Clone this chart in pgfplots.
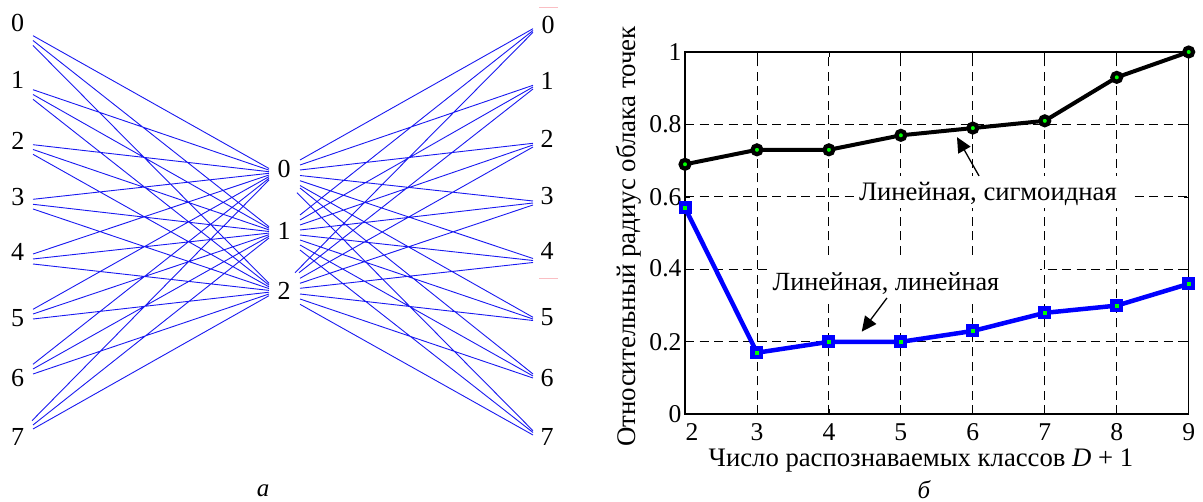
\documentclass[border=0pt]{standalone}
\usepackage{fontspec}
\setmainfont{Liberation Serif}
\usepackage{pgfplots}
\pgfplotsset{compat=1.18}
\usetikzlibrary{arrows.meta}
\definecolor{netblue}{RGB}{25,25,240}
\definecolor{pureblue}{RGB}{0,0,255}
\definecolor{puregreen}{RGB}{0,255,0}
\definecolor{pink1}{RGB}{250,190,195}
\newcommand{\fs}[1]{\fontsize{#1}{#1}\selectfont}
\begin{document}
\begin{tikzpicture}
\useasboundingbox (0,0) rectangle (1203pt,502pt);
% network panel, coordinates are image pixels
\begin{axis}[
  at={(0pt,0pt)},anchor=south west,scale only axis,width=1203pt,height=502pt,
  xmin=0,xmax=1203,ymin=0,ymax=502,y dir=reverse,axis lines=none,clip=false,
  unbounded coords=jump]
\addplot[netblue,line width=0.9pt,forget plot] coordinates {
(33,35.7)(269,168.5)(0,nan)(33,40.5)(269,226.7)(0,nan)(33,45.5)(269,283.3)(0,nan)
(33,89.7)(269,170.1)(0,nan)(33,94.5)(269,228.3)(0,nan)(33,99.3)(269,285.1)(0,nan)
(33,144.7)(269,171.7)(0,nan)(33,149.5)(269,229.9)(0,nan)(33,154.3)(269,286.9)(0,nan)
(33,199.3)(269,173.3)(0,nan)(33,204.3)(269,231.5)(0,nan)(33,209)(269,288.6)(0,nan)
(33,254)(269,175)(0,nan)(33,259)(269,233.1)(0,nan)(33,264)(269,290.4)(0,nan)
(33,309.3)(269,176.6)(0,nan)(33,314)(269,234.7)(0,nan)(33,319)(269,292.2)(0,nan)
(33,364.3)(269,178.3)(0,nan)(33,369)(269,236.3)(0,nan)(33,374)(269,294)(0,nan)
(32,420.7)(269,180)(0,nan)(33,425)(269,238)(0,nan)(33,429)(269,295.7)
};
\addplot[netblue,line width=0.9pt,forget plot] coordinates {
(300,160)(533,28.7)(0,nan)(300,215)(533,30.5)(0,nan)(295,272.7)(533,32.3)(0,nan)
(300,165)(533,85.3)(0,nan)(300,220)(533,87)(0,nan)(299,272.7)(533,89)(0,nan)
(300,170)(533,143.3)(0,nan)(300,225)(533,145)(0,nan)(300,278.3)(533,147)(0,nan)
(300,175.5)(533,201)(0,nan)(300,230)(533,203)(0,nan)(300,283.3)(533,205)(0,nan)
(300,180.7)(533,258.5)(0,nan)(300,235)(533,260.5)(0,nan)(300,288.3)(533,262.5)(0,nan)
(300,185.5)(533,317.3)(0,nan)(300,240)(533,319)(0,nan)(300,294)(533,320.5)(0,nan)
(300,188)(533,374)(0,nan)(300,245)(533,376)(0,nan)(300,299)(533,378)(0,nan)
(297,192.7)(533,430.7)(0,nan)(300,250)(533,432.5)(0,nan)(300,304.3)(533,435)
};
\addplot[pink1,line width=0.8pt,forget plot] coordinates {(539,7)(557.5,7)(0,nan)(539,278.3)(557.5,278.3)};
\foreach \t/\xx/\yy in {0/17.5/23.3,1/17.5/80,2/18/140.7,3/18/196.7,4/17.5/252,5/17.5/317.7,6/17.5/377.7,7/17.5/436.7,
  0/284/169.3,1/284/231,2/284/290.7,
  0/548/24.7,1/547/81.3,2/547/139.3,3/547/195.7,4/547/250.7,5/547/316.7,6/547/378,7/547/437.3}{
  \edef\tmp{\noexpand\node[inner sep=0pt,font=\noexpand\fs{26}] at (axis cs:\xx,\yy) {\t};}\tmp
}
\node[inner sep=0pt,font=\fs{25}\itshape] at (axis cs:263,491) {а};
\node[inner sep=0pt,font=\fs{25}\itshape] at (axis cs:924,489.5) {б};
\end{axis}
% line chart panel
\begin{axis}[
  at={(685pt,87.7pt)},anchor=south west,scale only axis,width=503.7pt,height=362.3pt,
  xmin=2,xmax=9,ymin=0,ymax=1,clip=false,
  axis line style={line width=1.2pt,black},
  xtick={2,3,4,5,6,7,8,9},
  xticklabels={\hspace{14pt}2,3,4,5,6,7,8,9\hspace{6pt}},
  ytick={0,0.2,0.4,0.6,0.8,1},
  yticklabels={0,\raisebox{-1.5pt}{0.2},\raisebox{2pt}{0.4},\raisebox{-3pt}{0.6},\raisebox{1.5pt}{0.8},1},
  tick align=inside,tick pos=both,major tick length=5pt,
  tick style={black,line width=0.8pt},
  xticklabel style={font=\fs{25.6},anchor=base,yshift=-26.4pt},
  yticklabel style={font=\fs{25.6}},
  xmajorgrids,ymajorgrids,
  grid style={black,line width=0.9pt,dash pattern=on 9pt off 5.5pt},
  xlabel={Число распознаваемых классов \textit{D} + 1},
  ylabel={Относительный радиус облака точек},
  xlabel style={font=\fs{26.7},at={(axis description cs:0.4685,-0.1446)},anchor=base},
  ylabel style={font=\fs{26.9},at={(axis description cs:-0.0973,0.491)},anchor=base},
]
\fill[white] (axis cs:4.39,0.569) rectangle (axis cs:8.18,0.658);
\fill[white] (axis cs:3.18,0.3155) rectangle (axis cs:6.93,0.426);
\draw[line width=2pt,black] (axis cs:2,1) -- (axis cs:2,0) -- (axis cs:9,0);
\addplot[black,line width=4pt,mark=*,mark size=4.4pt,
  mark options={fill=puregreen,draw=black,line width=4.2pt,solid}] coordinates {
(2,0.69)(3,0.73)(4,0.73)(5,0.77)(6,0.79)(7,0.81)(8,0.93)(9,1.0)};
\addplot[pureblue,line width=4.5pt,mark=square*,mark size=4.3pt,
  mark options={fill=puregreen,draw=pureblue,line width=4.4pt,solid}] coordinates {
(2,0.57)(3,0.17)(4,0.20)(5,0.20)(6,0.23)(7,0.28)(8,0.30)(9,0.36)};
\node[inner sep=0pt,font=\fs{26.7},anchor=base] at (axis cs:6.21,0.5896) {Линейная, сигмоидная};
\node[inner sep=0pt,font=\fs{26.2},anchor=base] at (axis cs:4.793,0.3412) {Линейная, линейная};
\draw[black,line width=1.3pt,-{Triangle[length=15pt,width=14pt]}] (axis cs:6.086,0.658) -- (axis cs:5.78,0.765);
\draw[black,line width=1.3pt,-{Triangle[length=15pt,width=14pt]}] (axis cs:4.807,0.321) -- (axis cs:4.456,0.228);
\end{axis}
\end{tikzpicture}
\end{document}
